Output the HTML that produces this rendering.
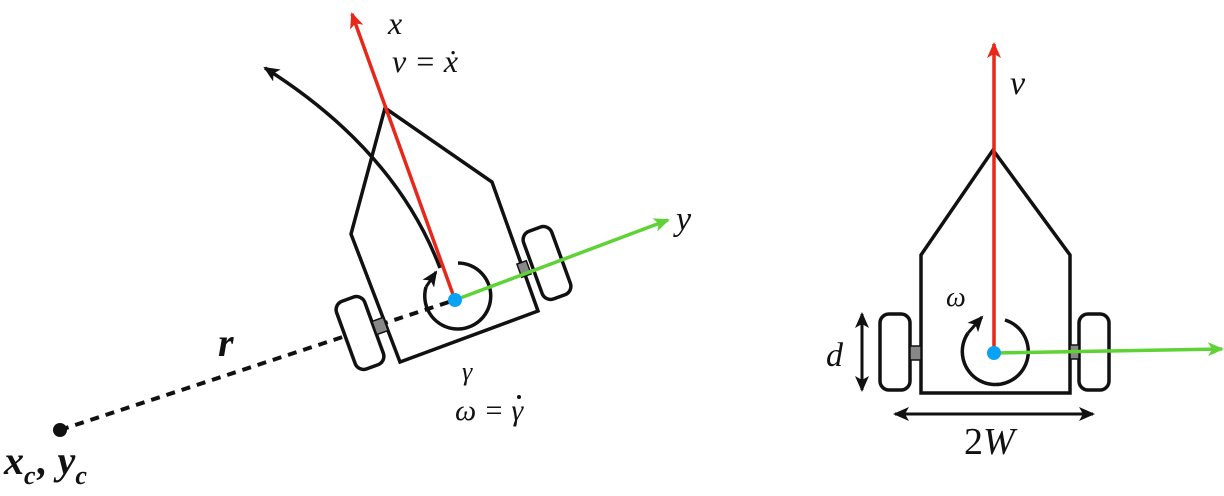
<!DOCTYPE html>
<html><head><meta charset="utf-8"><style>
html,body{margin:0;padding:0;background:#fff;}
svg{display:block}
text{font-family:"Liberation Serif",serif;font-style:italic;fill:#111}
</style></head><body>
<svg width="1224" height="496" viewBox="0 0 1224 496">
<defs>
<marker id="ab" markerWidth="16" markerHeight="14" refX="14" refY="7" orient="auto-start-reverse" markerUnits="userSpaceOnUse"><path d="M0,0 L16,7 L0,14 L4,7 Z" fill="#111"/></marker>
<marker id="ar" markerWidth="16" markerHeight="14" refX="14" refY="7" orient="auto" markerUnits="userSpaceOnUse"><path d="M0,0 L16,7 L0,14 L4,7 Z" fill="#e8271b"/></marker>
<marker id="ag" markerWidth="16" markerHeight="14" refX="14" refY="7" orient="auto" markerUnits="userSpaceOnUse"><path d="M0,0 L16,7 L0,14 L4,7 Z" fill="#5fd336"/></marker>
<marker id="ak" markerWidth="16" markerHeight="14" refX="14" refY="7" orient="auto" markerUnits="userSpaceOnUse"><path d="M0,0 L16,7 L0,14 L4,7 Z" fill="#111"/></marker>
</defs>

<g>
<line x1="60" y1="430" x2="455" y2="300" stroke="#111" stroke-width="4" stroke-dasharray="9,7"/>
<circle cx="60" cy="430" r="7" fill="#111"/>
<polygon points="385,108 492,182 538,311 400,362 351,234" fill="none" stroke="#111" stroke-width="3.5" stroke-linejoin="miter"/>
<rect x="345" y="297" width="30" height="72" rx="9" transform="rotate(-20 360 333)" fill="#fff" stroke="#111" stroke-width="3.5"/>
<rect x="374" y="319" width="12" height="14" transform="rotate(-20 380 326)" fill="#888" stroke="#111" stroke-width="1.5"/>
<rect x="532" y="227" width="30" height="72" rx="9" transform="rotate(-20 547 263)" fill="#fff" stroke="#111" stroke-width="3.5"/>
<rect x="519" y="262" width="10" height="14" transform="rotate(-20 524 269)" fill="#888" stroke="#111" stroke-width="1.5"/>
<path d="M440,268 Q395,150 265,68" fill="none" stroke="#111" stroke-width="3.5" marker-end="url(#ak)"/>
<path d="M458,263 A33,33 0 1 1 426,287" fill="none" stroke="#111" stroke-width="3.5"/>
<path d="M426,287 L436,272" stroke="#111" stroke-width="3" marker-end="url(#ak)"/>
<line x1="455" y1="300" x2="352" y2="14" stroke="#e8271b" stroke-width="3.5" marker-end="url(#ar)"/>
<line x1="455" y1="300" x2="668" y2="220" stroke="#5fd336" stroke-width="3.5" marker-end="url(#ag)"/>
<circle cx="455" cy="300" r="7" fill="#0aa2f5"/>
<text x="388" y="34" font-size="32">x</text>
<text x="392" y="72" font-size="32">v = ẋ</text>
<text x="676" y="230" font-size="34">y</text>
<text x="218" y="356" font-size="40" font-weight="bold">r</text>
<text x="462" y="380" font-size="26">γ</text>
<text x="455" y="420" font-size="30">ω = γ</text>
<circle cx="519" cy="397" r="2" fill="#111"/>
<text x="4" y="474" font-size="40" font-weight="bold">x<tspan font-size="26" dy="10">c</tspan><tspan dy="-10" dx="2">, y</tspan><tspan font-size="26" dy="10">c</tspan></text>
</g>

<g>
<polygon points="921,255 993,150 1070,255 1070,393 921,393" fill="none" stroke="#111" stroke-width="3.5"/>
<rect x="880" y="314" width="30" height="76" rx="9" fill="#fff" stroke="#111" stroke-width="3.5"/>
<rect x="910" y="346" width="11" height="14" fill="#888" stroke="#111" stroke-width="1.5"/>
<rect x="1079" y="314" width="30" height="76" rx="9" fill="#fff" stroke="#111" stroke-width="3.5"/>
<rect x="1070" y="345" width="9" height="14" fill="#888" stroke="#111" stroke-width="1.5"/>
<path d="M1005,320 A33,33 0 1 1 968,333" fill="none" stroke="#111" stroke-width="3.5"/>
<path d="M968,333 L982,317" stroke="#111" stroke-width="3" marker-end="url(#ak)"/>
<line x1="994" y1="353" x2="994" y2="44" stroke="#e8271b" stroke-width="3.5" marker-end="url(#ar)"/>
<line x1="994" y1="353" x2="1222" y2="349" stroke="#5fd336" stroke-width="3.5" marker-end="url(#ag)"/>
<circle cx="994" cy="353" r="7" fill="#0aa2f5"/>
<line x1="862" y1="314" x2="862" y2="390" stroke="#111" stroke-width="3" marker-start="url(#ab)" marker-end="url(#ab)"/>
<line x1="895" y1="414" x2="1093" y2="414" stroke="#111" stroke-width="3" marker-start="url(#ab)" marker-end="url(#ab)"/>
<text x="1010" y="94" font-size="34">v</text>
<text x="946" y="306" font-size="28">ω</text>
<text x="826" y="366" font-size="34">d</text>
<text x="964" y="454" font-size="38"><tspan font-style="normal">2</tspan>W</text>
</g>
</svg>
</body></html>
